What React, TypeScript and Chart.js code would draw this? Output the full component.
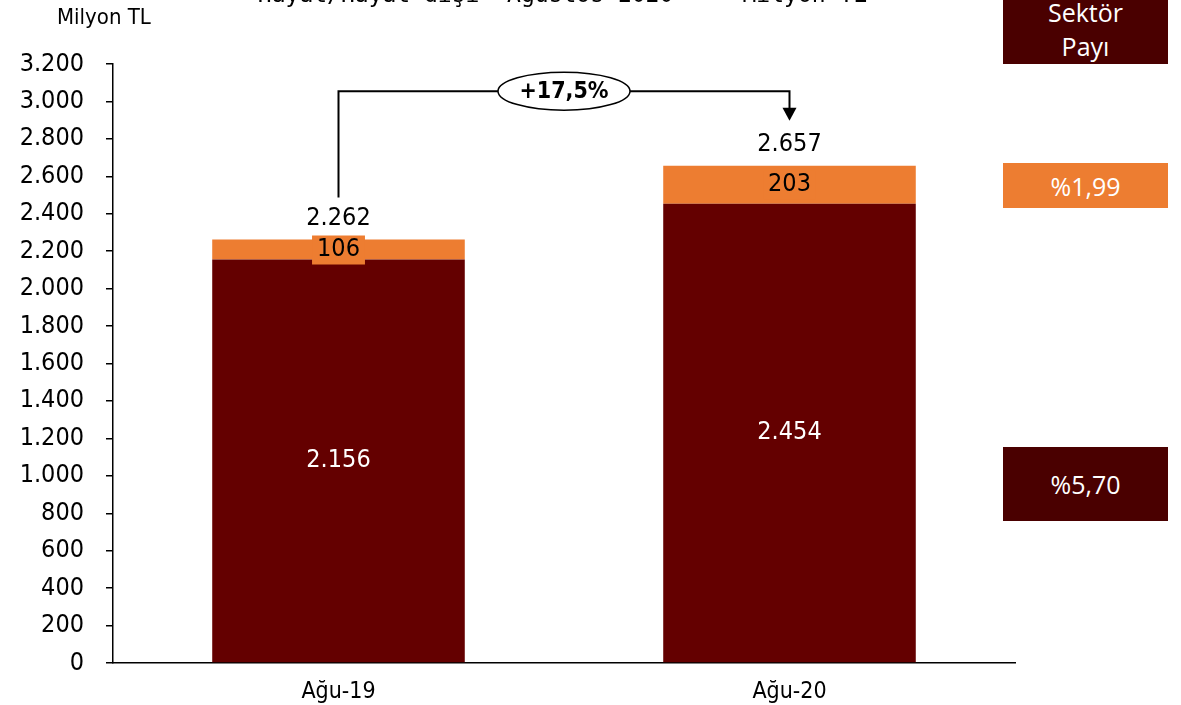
import React, { useEffect, useRef } from "react";
import { Chart, registerables } from "chart.js";

Chart.register(...registerables);

const categories = ["Ağu-19", "Ağu-20"];
const hayatDisi = [2156, 2454];
const hayat = [106, 203];
const totals = [2262, 2657];
const growthLabel = "+17,5%";
const titleText = "Hayat/Hayat dışı  Ağustos 2020  -  Milyon TL";
const unitText = "Milyon TL";
const shareHeader = ["Sektör", "Payı"];
const shareHayat = "%1,99";
const shareHayatDisi = "%5,70";

const DARK = "#640000";
const ORANGE = "#ED7D31";
const BOX_DARK = "#4A0000";
const FONT = "'DejaVu Sans Condensed', 'DejaVu Sans', sans-serif";

const fmt = (v: number) => v.toLocaleString("de-DE");

const labelPlugin = {
  id: "labels",
  afterDatasetsDraw(chart: any) {
    const ctx = chart.ctx;
    const y = chart.scales.y;
    const m0 = chart.getDatasetMeta(0);
    const m1 = chart.getDatasetMeta(1);
    ctx.save();
    ctx.textAlign = "center";
    ctx.textBaseline = "middle";
    ctx.font = `25px ${FONT}`;
    categories.forEach((_, i) => {
      const b0 = m0.data[i];
      const b1 = m1.data[i];
      ctx.fillStyle = "#ffffff";
      ctx.fillText(fmt(hayatDisi[i]), b0.x, (b0.y + b0.base) / 2);
      const oy = (b1.y + b1.base) / 2;
      const t = fmt(hayat[i]);
      const w = ctx.measureText(t).width + 10;
      ctx.fillStyle = ORANGE;
      ctx.fillRect(b1.x - w / 2, oy - 14, w, 29);
      ctx.fillStyle = "#000000";
      ctx.fillText(t, b1.x, oy);
      ctx.fillText(fmt(totals[i]), b1.x, y.getPixelForValue(totals[i]) - 21);
    });

    const x1 = m1.data[0].x;
    const x2 = m1.data[1].x;
    const startY = y.getPixelForValue(totals[0]) - 42;
    const topY = y.getPixelForValue(3055);
    const tipY = y.getPixelForValue(totals[1]) - 45;
    const cx = (x1 + x2) / 2;
    const rx = 66;
    const ry = 19;
    ctx.strokeStyle = "#000000";
    ctx.lineWidth = 2;
    ctx.beginPath();
    ctx.moveTo(x1, startY);
    ctx.lineTo(x1, topY);
    ctx.lineTo(cx - rx, topY);
    ctx.moveTo(cx + rx, topY);
    ctx.lineTo(x2, topY);
    ctx.lineTo(x2, tipY - 12);
    ctx.stroke();
    ctx.fillStyle = "#000000";
    ctx.beginPath();
    ctx.moveTo(x2 - 7, tipY - 13);
    ctx.lineTo(x2 + 7, tipY - 13);
    ctx.lineTo(x2, tipY);
    ctx.closePath();
    ctx.fill();
    ctx.beginPath();
    ctx.ellipse(cx, topY, rx, ry, 0, 0, Math.PI * 2);
    ctx.fillStyle = "#ffffff";
    ctx.fill();
    ctx.lineWidth = 1.5;
    ctx.stroke();
    ctx.fillStyle = "#000000";
    ctx.font = `bold 23px ${FONT}`;
    ctx.fillText(growthLabel, cx, topY + 1);
    ctx.restore();
  },
};

export default function App() {
  const ref = useRef<HTMLCanvasElement | null>(null);
  useEffect(() => {
    document.body.style.margin = "0";
    const chart = new Chart(ref.current as HTMLCanvasElement, {
      type: "bar",
      data: {
        labels: categories,
        datasets: [
          { label: "Hayat dışı", data: hayatDisi, backgroundColor: DARK },
          { label: "Hayat", data: hayat, backgroundColor: ORANGE },
        ],
      },
      options: {
        animation: false,
        responsive: false,
        layout: { padding: { left: 0, right: 166, top: 64, bottom: 0 } },
        plugins: { legend: { display: false }, tooltip: { enabled: false }, title: { display: false } },
        datasets: { bar: { categoryPercentage: 1, barPercentage: 0.56 } },
        scales: {
          x: {
            stacked: true,
            grid: { display: false },
            border: { display: true, color: "#000", width: 1.5 },
            ticks: { color: "#000", font: { family: FONT, size: 23 }, padding: 7 },
            afterFit: (s: any) => { s.height = 42; },
          },
          y: {
            stacked: true,
            min: 0,
            max: 3200,
            grid: { drawOnChartArea: false, drawTicks: true, tickLength: 7, color: "#000", lineWidth: 1.5 },
            border: { display: true, color: "#000", width: 1.5 },
            ticks: {
              stepSize: 200,
              color: "#000",
              font: { family: FONT, size: 25 },
              padding: 22,
              callback: (v: any) => fmt(Number(v)),
            },
            afterFit: (s: any) => { s.width = 113; },
          },
        },
      },
      plugins: [labelPlugin],
    });
    return () => chart.destroy();
  }, []);

  const box = (top: number, height: number, bg: string): React.CSSProperties => ({
    position: "absolute",
    left: 1003,
    top,
    width: 165,
    height,
    background: bg,
    color: "#fff",
    fontFamily: "'Open Sans', sans-serif",
    fontSize: 25,
    display: "flex",
    flexDirection: "column",
    alignItems: "center",
    justifyContent: "center",
    lineHeight: "34px",
  });

  return (
    <div style={{ position: "relative", width: 1181, height: 705, overflow: "hidden", background: "#fff" }}>
      <canvas ref={ref} width={1181} height={705} style={{ position: "absolute", left: 0, top: 0 }} />
      <div style={{ position: "absolute", left: 0, width: 1125, top: -20, textAlign: "center", fontFamily: "'DejaVu Sans Mono', monospace", fontSize: 23, lineHeight: "28px", whiteSpace: "pre" }}>{titleText}</div>
      <div style={{ position: "absolute", left: 57, top: 3, fontFamily: FONT, fontSize: 22, lineHeight: "28px" }}>{unitText}</div>
      <div style={{ ...box(-6, 70, BOX_DARK) }}>
        <span>{shareHeader[0]}</span>
        <span>{shareHeader[1]}</span>
      </div>
      <div style={box(163, 45, ORANGE)}>{shareHayat}</div>
      <div style={box(447, 74, BOX_DARK)}>{shareHayatDisi}</div>
    </div>
  );
}
